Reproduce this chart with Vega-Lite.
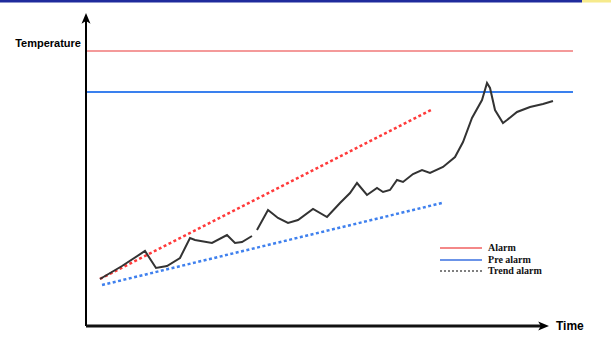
{
  "$schema": "https://vega.github.io/schema/vega-lite/v6.json",
  "width": 611,
  "height": 342,
  "padding": 0,
  "autosize": {"type": "fit", "contains": "padding"},
  "background": "white",
  "config": {"view": {"stroke": null}},
  "datasets": {
    "curve": [
      {"seg": 1, "t": 3.02, "T": 15.02},
      {"seg": 1, "t": 7.78, "T": 19.17},
      {"seg": 1, "t": 12.74, "T": 23.96},
      {"seg": 1, "t": 15.12, "T": 18.53},
      {"seg": 1, "t": 17.49, "T": 19.17},
      {"seg": 1, "t": 20.3, "T": 21.73},
      {"seg": 1, "t": 22.46, "T": 28.12},
      {"seg": 1, "t": 23.54, "T": 27.48},
      {"seg": 1, "t": 27.21, "T": 26.52},
      {"seg": 1, "t": 30.45, "T": 29.07},
      {"seg": 1, "t": 32.18, "T": 26.52},
      {"seg": 1, "t": 33.69, "T": 26.84},
      {"seg": 1, "t": 35.85, "T": 28.75},
      {"seg": 2, "t": 36.93, "T": 30.67},
      {"seg": 2, "t": 39.31, "T": 37.06},
      {"seg": 2, "t": 41.47, "T": 34.5},
      {"seg": 2, "t": 43.63, "T": 32.91},
      {"seg": 2, "t": 45.79, "T": 33.87},
      {"seg": 2, "t": 49.03, "T": 37.38},
      {"seg": 2, "t": 52.05, "T": 34.82},
      {"seg": 2, "t": 54.86, "T": 39.3},
      {"seg": 2, "t": 57.02, "T": 42.49},
      {"seg": 2, "t": 58.53, "T": 45.69},
      {"seg": 2, "t": 60.69, "T": 41.85},
      {"seg": 2, "t": 62.85, "T": 44.09},
      {"seg": 2, "t": 64.15, "T": 42.81},
      {"seg": 2, "t": 65.66, "T": 43.45},
      {"seg": 2, "t": 67.17, "T": 46.65},
      {"seg": 2, "t": 68.47, "T": 46.01},
      {"seg": 2, "t": 70.63, "T": 48.56},
      {"seg": 2, "t": 72.57, "T": 49.84},
      {"seg": 2, "t": 74.3, "T": 48.88},
      {"seg": 2, "t": 77.11, "T": 50.8},
      {"seg": 2, "t": 79.7, "T": 53.99},
      {"seg": 2, "t": 81.43, "T": 58.79},
      {"seg": 2, "t": 83.37, "T": 66.45},
      {"seg": 2, "t": 85.53, "T": 72.2},
      {"seg": 2, "t": 86.61, "T": 77.64},
      {"seg": 2, "t": 87.26, "T": 76.04},
      {"seg": 2, "t": 88.34, "T": 69.01},
      {"seg": 2, "t": 90.06, "T": 64.86},
      {"seg": 2, "t": 90.93, "T": 65.81},
      {"seg": 2, "t": 93.09, "T": 68.37},
      {"seg": 2, "t": 95.9, "T": 69.97},
      {"seg": 2, "t": 98.7, "T": 70.93},
      {"seg": 2, "t": 100.86, "T": 71.88}
    ],
    "lines": [
      {"name": "alarm", "t": 0.22, "T": 87.86},
      {"name": "alarm", "t": 105.18, "T": 87.86},
      {"name": "prealarm", "t": 0.22, "T": 74.76},
      {"name": "prealarm", "t": 105.18, "T": 74.76},
      {"name": "redtrend", "t": 3.02, "T": 15.02},
      {"name": "redtrend", "t": 74.95, "T": 69.33},
      {"name": "bluetrend", "t": 3.46, "T": 13.1},
      {"name": "bluetrend", "t": 76.89, "T": 39.3},
      {"name": "yaxis", "t": 0, "T": 0},
      {"name": "yaxis", "t": 0, "T": 98.08},
      {"name": "xaxis", "t": 0, "T": 0},
      {"name": "xaxis", "t": 98.7, "T": 0},
      {"name": "lg_alarm", "t": 76.46, "T": 24.92},
      {"name": "lg_alarm", "t": 85.53, "T": 24.92},
      {"name": "lg_pre", "t": 76.46, "T": 21.09},
      {"name": "lg_pre", "t": 85.53, "T": 21.09},
      {"name": "lg_trend", "t": 76.46, "T": 17.57},
      {"name": "lg_trend", "t": 85.53, "T": 17.57}
    ],
    "arrows": [
      {"dir": "up", "t": 0, "T": 98.08},
      {"dir": "right", "t": 98.7, "T": 0}
    ],
    "axislabels": [
      {"label": "Temperature", "t": -1.08, "T": 90.1, "side": "right"},
      {"label": "Time", "t": 101.51, "T": 0, "side": "left"}
    ],
    "legend": [
      {"label": "Alarm", "t": 86.83, "T": 24.92},
      {"label": "Pre alarm", "t": 86.83, "T": 21.09},
      {"label": "Trend alarm", "t": 86.83, "T": 17.57}
    ],
    "bar": [
      {"part": "navy", "t": -18.575, "t2": 107.13, "T": 104.153, "T2": 103.35},
      {"part": "yellow", "t": 107.13, "t2": 113.391, "T": 104.153, "T2": 103.35}
    ]
  },
  "encoding": {
    "x": {"field": "t", "type": "quantitative", "axis": null, "scale": {"domain": [-18.575, 113.391], "nice": false, "zero": false}},
    "y": {"field": "T", "type": "quantitative", "axis": null, "scale": {"domain": [-5.112, 104.153], "nice": false, "zero": false}}
  },
  "layer": [
    {
      "data": {"name": "bar"},
      "mark": {"type": "rect"},
      "encoding": {
        "x2": {"field": "t2"},
        "y2": {"field": "T2"},
        "color": {"field": "part", "type": "nominal", "legend": null, "scale": {"domain": ["navy", "yellow"], "range": ["#1f2b9c", "#f6ea8c"]}}
      }
    },
    {
      "data": {"name": "lines"},
      "transform": [{"filter": "datum.name === 'alarm'"}],
      "mark": {"type": "line", "color": "#f07878", "strokeWidth": 1.6},
      "encoding": {}
    },
    {
      "data": {"name": "lines"},
      "transform": [{"filter": "datum.name === 'prealarm'"}],
      "mark": {"type": "line", "color": "#3a80ee", "strokeWidth": 2},
      "encoding": {}
    },
    {
      "data": {"name": "lines"},
      "transform": [{"filter": "datum.name === 'redtrend'"}],
      "mark": {"type": "line", "color": "#ff3a3a", "strokeWidth": 2.5, "strokeDash": [3, 2.5]},
      "encoding": {}
    },
    {
      "data": {"name": "lines"},
      "transform": [{"filter": "datum.name === 'bluetrend'"}],
      "mark": {"type": "line", "color": "#3f80ee", "strokeWidth": 2.5, "strokeDash": [3, 2.5]},
      "encoding": {}
    },
    {
      "data": {"name": "curve"},
      "mark": {"type": "line", "color": "#333333", "strokeWidth": 2},
      "encoding": {"detail": {"field": "seg", "type": "nominal"}}
    },
    {
      "data": {"name": "lines"},
      "transform": [{"filter": "datum.name === 'yaxis'"}],
      "mark": {"type": "line", "color": "#000000", "strokeWidth": 2},
      "encoding": {}
    },
    {
      "data": {"name": "lines"},
      "transform": [{"filter": "datum.name === 'xaxis'"}],
      "mark": {"type": "line", "color": "#111111", "strokeWidth": 3},
      "encoding": {}
    },
    {
      "data": {"name": "arrows"},
      "transform": [{"filter": "datum.dir === 'up'"}],
      "mark": {"type": "point", "filled": true, "color": "#000000", "opacity": 1, "size": 144, "shape": "M0,-1L0.75,0.8L0,0.35L-0.75,0.8Z"},
      "encoding": {}
    },
    {
      "data": {"name": "arrows"},
      "transform": [{"filter": "datum.dir === 'right'"}],
      "mark": {"type": "point", "filled": true, "color": "#000000", "opacity": 1, "size": 144, "shape": "M1,0L-0.8,0.75L-0.35,0L-0.8,-0.75Z"},
      "encoding": {}
    },
    {
      "data": {"name": "lines"},
      "transform": [{"filter": "datum.name === 'lg_alarm'"}],
      "mark": {"type": "line", "color": "#f06060", "strokeWidth": 1.3},
      "encoding": {}
    },
    {
      "data": {"name": "lines"},
      "transform": [{"filter": "datum.name === 'lg_pre'"}],
      "mark": {"type": "line", "color": "#3a70e0", "strokeWidth": 1.3},
      "encoding": {}
    },
    {
      "data": {"name": "lines"},
      "transform": [{"filter": "datum.name === 'lg_trend'"}],
      "mark": {"type": "line", "color": "#000000", "strokeWidth": 1, "strokeDash": [2, 2]},
      "encoding": {}
    },
    {
      "data": {"name": "axislabels"},
      "transform": [{"filter": "datum.side === 'right'"}],
      "mark": {"type": "text", "align": "right", "baseline": "middle", "font": "Liberation Sans", "fontWeight": "bold", "fontSize": 11, "color": "#000000"},
      "encoding": {"text": {"field": "label"}}
    },
    {
      "data": {"name": "axislabels"},
      "transform": [{"filter": "datum.side === 'left'"}],
      "mark": {"type": "text", "align": "left", "baseline": "middle", "font": "Liberation Sans", "fontWeight": "bold", "fontSize": 12, "color": "#000000"},
      "encoding": {"text": {"field": "label"}}
    },
    {
      "data": {"name": "legend"},
      "mark": {"type": "text", "align": "left", "baseline": "middle", "font": "Liberation Serif", "fontWeight": "bold", "fontSize": 10, "color": "#111111"},
      "encoding": {"text": {"field": "label"}}
    }
  ]
}
